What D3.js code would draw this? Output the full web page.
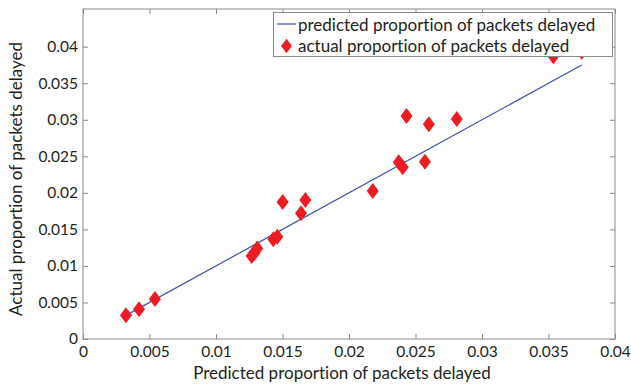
<!DOCTYPE html>
<html><head><meta charset="utf-8">
<script src="https://cdn.jsdelivr.net/npm/d3@7"></script>
<style>
html,body{margin:0;padding:0;background:#fff;}
svg{display:block;font-family:Lato,"Noto Sans",sans-serif;font-variant-ligatures:none;font-feature-settings:"liga" 0;}
</style></head>
<body>
<svg id="chart" width="631" height="387"></svg>
<script>
const xTicks = [0, 0.005, 0.01, 0.015, 0.02, 0.025, 0.03, 0.035, 0.04];
const yTicks = [0, 0.005, 0.01, 0.015, 0.02, 0.025, 0.03, 0.035, 0.04];
const predicted = [0.00323, 0.00421, 0.00541, 0.01268, 0.01290, 0.01310, 0.01431, 0.01461, 0.01501, 0.01639,
                   0.01672, 0.02178, 0.02374, 0.02404, 0.02433, 0.02571, 0.02600, 0.02810, 0.03536, 0.03750];
const actual    = [0.00324, 0.00406, 0.00547, 0.01136, 0.01180, 0.01240, 0.01364, 0.01400, 0.01875, 0.01720,
                   0.01902, 0.02025, 0.02418, 0.02350, 0.03052, 0.02426, 0.02938, 0.03010, 0.03870, 0.03930];
const lineX = [0.00323, 0.03750];
const lineY = [0.00323, 0.03750];
const legendLabels = ["predicted proportion of packets delayed", "actual proportion of packets delayed"];
const xTitle = "Predicted proportion of packets delayed";
const yTitle = "Actual proportion of packets delayed";

const svg = d3.select("#chart");
const L = 83, R = 615, T = 9, B = 339;
const x = d3.scaleLinear().domain([0, 0.04]).range([L, R]);
const y = d3.scaleLinear().domain([0, 0.04516]).range([B, T]);
const axisColor = "#8a8a8a", textColor = "#231f20";
const red = "#ed1c24", blue = "#3f56a8";
const fmt = d => d === 0 ? "0" : String(+d.toFixed(3));

function styleAxis(g, hideText) {
  g.select(".domain").remove();
  g.selectAll(".tick line").attr("stroke", axisColor);
  g.selectAll(".tick text").attr("fill", textColor).style("font-size", "15.5px").style("font-family", "Lato");
  if (hideText) g.selectAll(".tick text").remove();
}

svg.append("g").attr("transform", `translate(0,${B})`)
  .call(d3.axisBottom(x).tickValues(xTicks).tickFormat(fmt).tickSizeInner(-5).tickSizeOuter(0).tickPadding(7))
  .call(g => styleAxis(g, false));
svg.append("g").attr("transform", `translate(0,${T})`)
  .call(d3.axisTop(x).tickValues(xTicks).tickSizeInner(-5).tickSizeOuter(0))
  .call(g => styleAxis(g, true));
svg.append("g").attr("transform", `translate(${L},0)`)
  .call(d3.axisLeft(y).tickValues(yTicks).tickFormat(fmt).tickSizeInner(-5).tickSizeOuter(0).tickPadding(5))
  .call(g => styleAxis(g, false));
svg.append("g").attr("transform", `translate(${R},0)`)
  .call(d3.axisRight(y).tickValues(yTicks).tickSizeInner(-5).tickSizeOuter(0))
  .call(g => styleAxis(g, true));

svg.append("rect").attr("x", L).attr("y", T).attr("width", R - L).attr("height", B - T)
  .attr("fill", "none").attr("stroke", axisColor).attr("stroke-width", 1);

// diamond symbol (wider than d3's default)
const diamond = {
  draw(ctx, size) {
    const h = Math.sqrt(size / 1.5) ; const w = h * 0.75;
    ctx.moveTo(0, -h); ctx.lineTo(w, 0); ctx.lineTo(0, h); ctx.lineTo(-w, 0); ctx.closePath();
  }
};

svg.append("path")
  .datum(lineX.map((v, i) => [v, lineY[i]]))
  .attr("d", d3.line().x(d => x(d[0])).y(d => y(d[1])))
  .attr("fill", "none").attr("stroke", blue).attr("stroke-width", 1.2);

svg.append("g").selectAll("path").data(predicted.map((p, i) => [p, actual[i]]))
  .join("path")
  .attr("transform", d => `translate(${x(d[0])},${y(d[1])})`)
  .attr("d", d3.symbol().type(diamond).size(96))
  .attr("fill", red);

// legend
const lg = svg.append("g");
lg.append("rect").attr("x", 273.5).attr("y", 12.5).attr("width", 339).attr("height", 44)
  .attr("fill", "#fff").attr("stroke", axisColor).attr("stroke-width", 1);
lg.append("line").attr("x1", 277).attr("x2", 296).attr("y1", 24).attr("y2", 24)
  .attr("stroke", blue).attr("stroke-width", 1.2);
lg.append("path").attr("transform", "translate(286.5,46)")
  .attr("d", d3.symbol().type(diamond).size(80)).attr("fill", red);
lg.selectAll("text").data(legendLabels).join("text")
  .attr("x", 298).attr("y", (d, i) => 30.5 + i * 21.5)
  .attr("fill", textColor).style("font-size", "17px").text(d => d);

svg.append("text").attr("x", 342).attr("y", 379).attr("text-anchor", "middle")
  .attr("fill", textColor).style("font-size", "17px").text(xTitle);
svg.append("text").attr("transform", "translate(22,179) rotate(-90)").attr("text-anchor", "middle")
  .attr("fill", textColor).style("font-size", "17px").text(yTitle);
</script>
</body></html>
